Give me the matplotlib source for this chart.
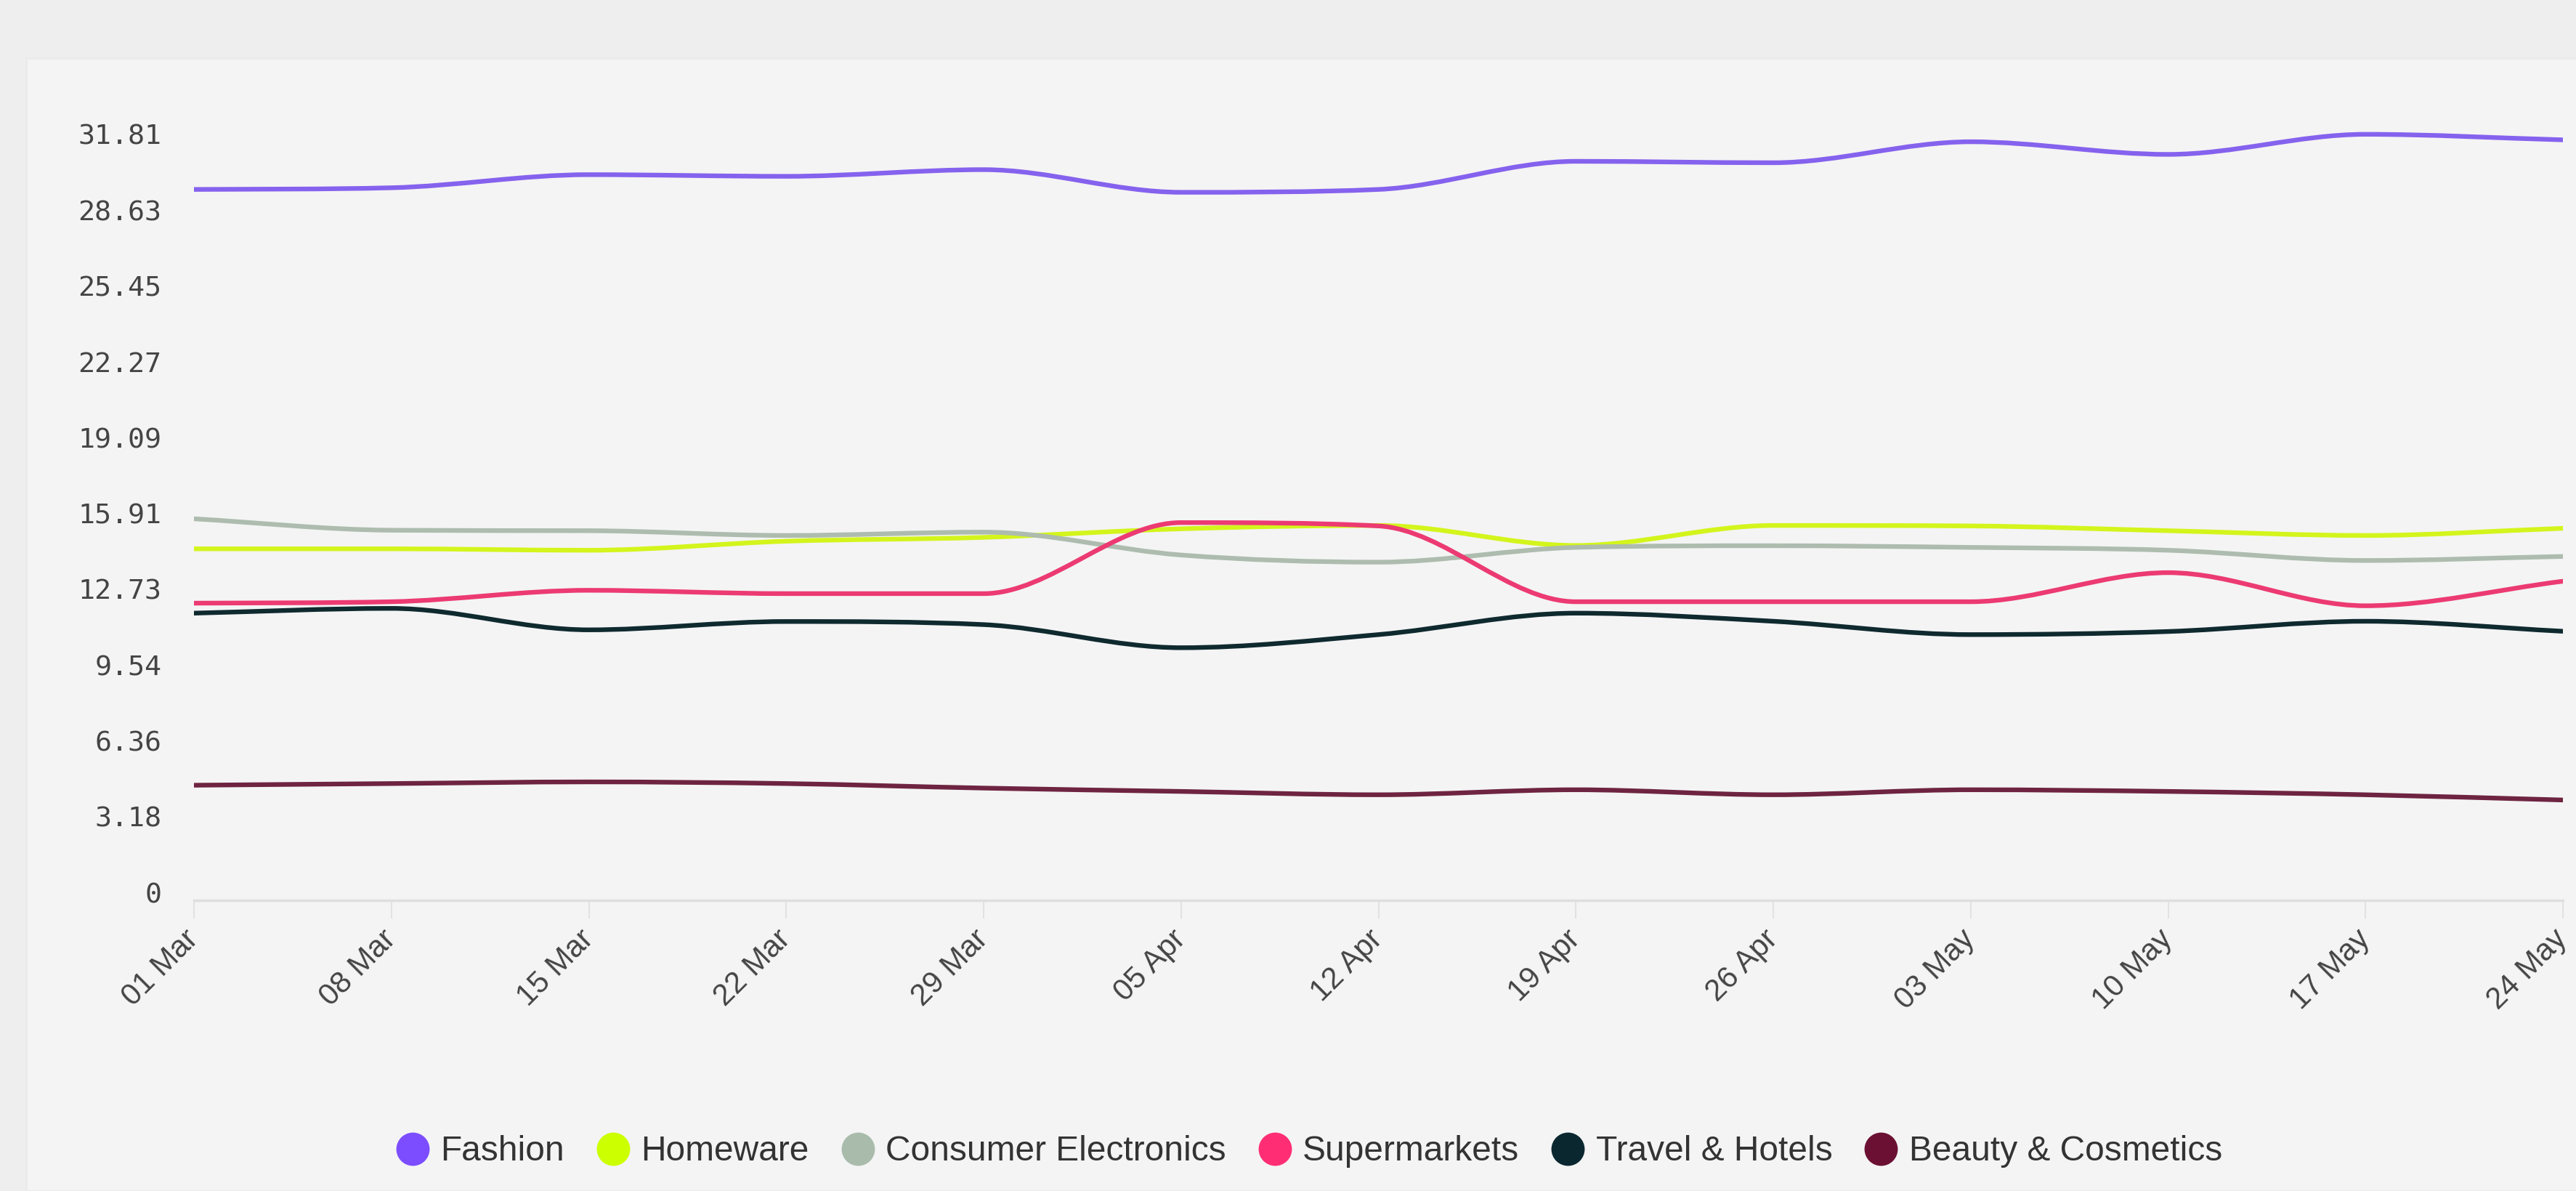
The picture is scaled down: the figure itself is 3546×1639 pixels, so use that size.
import matplotlib
matplotlib.use("Agg")
import matplotlib.pyplot as plt
from matplotlib.path import Path
from matplotlib.patches import PathPatch, Rectangle
from matplotlib.lines import Line2D
import numpy as np

# weekly values
dates = ["01 Mar", "08 Mar", "15 Mar", "22 Mar", "29 Mar", "05 Apr", "12 Apr",
         "19 Apr", "26 Apr", "03 May", "10 May", "17 May", "24 May"]

fashion = [29.50, 29.57, 30.12, 30.05, 30.33, 29.38, 29.50, 30.68, 30.62, 31.50, 30.97, 31.813, 31.58]
homeware = [14.42, 14.42, 14.36, 14.74, 14.90, 15.26, 15.40, 14.56, 15.40, 15.38, 15.18, 14.98, 15.28]
electronics = [15.68, 15.20, 15.18, 14.98, 15.12, 14.16, 13.86, 14.48, 14.55, 14.48, 14.36, 13.93, 14.10]
supermarkets = [12.14, 12.20, 12.68, 12.54, 12.54, 15.52, 15.38, 12.20, 12.20, 12.20, 13.42, 12.03, 13.06]
travel = [11.72, 11.92, 11.02, 11.37, 11.24, 10.27, 10.82, 11.72, 11.38, 10.82, 10.95, 11.38, 10.96]
beauty = [4.50, 4.57, 4.64, 4.57, 4.38, 4.24, 4.10, 4.31, 4.10, 4.31, 4.24, 4.10, 3.88]

series_names = ["Fashion", "Homeware", "Consumer Electronics", "Supermarkets",
                "Travel & Hotels", "Beauty & Cosmetics"]
series_values = [fashion, homeware, electronics, supermarkets, travel, beauty]
line_colors = ["#8562ee", "#d3f51c", "#adbcae", "#ec3a72", "#0f2a2f", "#6e2440"]
legend_colors = ["#7c4dff", "#ccff00", "#a9bcab", "#ff2e74", "#0a2730", "#6b1032"]

y_ticks = [0, 3.18, 6.36, 9.54, 12.73, 15.91, 19.09, 22.27, 25.45, 28.63, 31.81]
y_labels = ["0", "3.18", "6.36", "9.54", "12.73", "15.91", "19.09", "22.27", "25.45", "28.63", "31.81"]


def monotone_path(xs, ys):
    # cubic bezier segments with monotone (Fritsch-Carlson) tangents
    xs = np.asarray(xs, float)
    ys = np.asarray(ys, float)
    n = len(xs)
    h = np.diff(xs)
    d = np.diff(ys) / h
    m = np.zeros(n)
    m[0], m[-1] = d[0], d[-1]
    for i in range(1, n - 1):
        if d[i - 1] * d[i] <= 0:
            m[i] = 0
        else:
            m[i] = (d[i - 1] + d[i]) / 2
    for i in range(n - 1):
        if d[i] == 0:
            m[i] = m[i + 1] = 0
            continue
        a, b = m[i] / d[i], m[i + 1] / d[i]
        s = a * a + b * b
        if s > 9:
            t = 3 / np.sqrt(s)
            m[i], m[i + 1] = t * a * d[i], t * b * d[i]
    verts = [(xs[0], ys[0])]
    codes = [Path.MOVETO]
    for i in range(n - 1):
        dx = h[i] / 3
        verts += [(xs[i] + dx, ys[i] + m[i] * dx),
                  (xs[i + 1] - dx, ys[i + 1] - m[i + 1] * dx),
                  (xs[i + 1], ys[i + 1])]
        codes += [Path.CURVE4] * 3
    return Path(verts, codes)


W, H = 3546, 1639
fig = plt.figure(figsize=(W / 100, H / 100), dpi=100)
fig.patch.set_facecolor("#efeeee")

# light card behind the chart
fig.patches.append(Rectangle((36 / W, 0), 1, 1 - 80 / H, transform=fig.transFigure,
                             facecolor="#f4f4f4", edgecolor="#eaeaea", linewidth=2, zorder=-10))

ax = fig.add_axes([267 / W, 1 - 1239 / H, (3528 - 267) / W, (1239 - 129.5) / H])
ax.set_facecolor("none")
ax.set_zorder(2)

x = np.arange(len(dates))
for name, vals, col in zip(series_names, series_values, line_colors):
    ax.add_patch(PathPatch(monotone_path(x, vals), facecolor="none", edgecolor=col,
                           linewidth=4.6, capstyle="round", joinstyle="round", zorder=3))

ax.set_xlim(0, len(dates) - 1)
ax.set_ylim(-0.33, 33.5)

ax.set_yticks(y_ticks)
ax.set_yticklabels(y_labels, family="DejaVu Sans Mono", fontsize=27.5, color="#444444")
ax.tick_params(axis="y", length=0, pad=32)

ax.set_xticks(x)
ax.set_xticklabels(dates, rotation=45, ha="right", va="center", rotation_mode="anchor",
                   family="Liberation Sans", fontsize=30, color="#444444")
ax.tick_params(axis="x", length=18, width=1.5, color="#e2e2e2", pad=16)

for side in ["top", "right", "left"]:
    ax.spines[side].set_visible(False)
ax.spines["bottom"].set_color("#dedede")
ax.spines["bottom"].set_linewidth(2.5)

handles = [Line2D([], [], linestyle="none", marker="o", markersize=32,
                  markerfacecolor=c, markeredgecolor=c) for c in legend_colors]
fig.legend(handles, series_names, loc="center", bbox_to_anchor=(0.508, 0.033),
           ncol=6, frameon=False, handlelength=1.0, handletextpad=0.3,
           columnspacing=0.9, prop={"family": "Liberation Sans", "size": 34.5},
           labelcolor="#333333")

fig.savefig("out.png", dpi=100, facecolor=fig.get_facecolor())
